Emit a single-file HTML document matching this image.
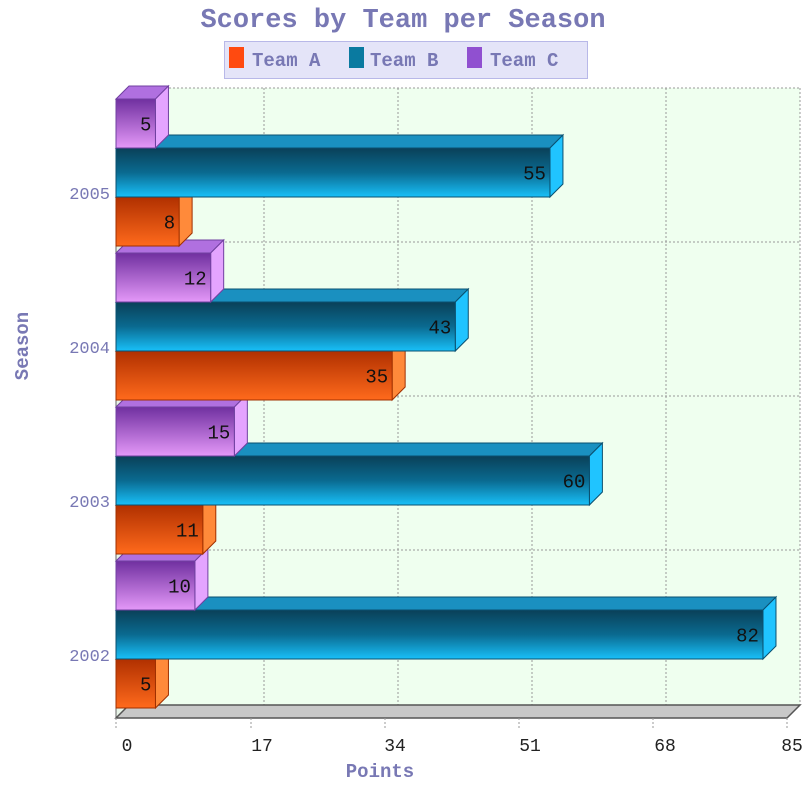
<!DOCTYPE html>
<html><head><meta charset="utf-8"><style>
html,body{margin:0;padding:0;background:#fff;}
svg{display:block;}
</style></head><body>
<svg id="s" width="812" height="804" xmlns="http://www.w3.org/2000/svg" font-family="Liberation Mono, DejaVu Sans Mono, monospace">
<defs>
<linearGradient id="gA" x1="0" y1="0" x2="0" y2="1"><stop offset="0" stop-color="#b03000"/><stop offset="1" stop-color="#ff6a1c"/></linearGradient>
<linearGradient id="gB" x1="0" y1="0" x2="0" y2="1"><stop offset="0" stop-color="#0a4058"/><stop offset="0.5" stop-color="#0a6a90"/><stop offset="1" stop-color="#18c0f8"/></linearGradient>
<linearGradient id="gC" x1="0" y1="0" x2="0" y2="1"><stop offset="0" stop-color="#7030a0"/><stop offset="1" stop-color="#e498f8"/></linearGradient>
</defs>
<text x="403" y="27" text-anchor="middle" font-size="27" font-weight="bold" fill="#7878b4">Scores by Team per Season</text>
<rect x="224.5" y="41.5" width="363" height="37" fill="#e4e4f8" stroke="#b8b8e8"/>
<rect x="229" y="47" width="15" height="21" fill="#ff4a10"/>
<text x="252" y="66" font-size="19" font-weight="bold" fill="#7878b4">Team A</text>
<rect x="349" y="47" width="15" height="21" fill="#0a7aa0"/>
<text x="370" y="66" font-size="19" font-weight="bold" fill="#7878b4">Team B</text>
<rect x="467" y="47" width="15" height="21" fill="#9050d0"/>
<text x="490" y="66" font-size="19" font-weight="bold" fill="#7878b4">Team C</text>
<g id="plot"></g>
<text x="28" y="346" text-anchor="middle" font-size="19" font-weight="bold" fill="#7878b4" transform="rotate(-90 28 346)">Season</text>
<text x="380" y="777" text-anchor="middle" font-size="19" font-weight="bold" fill="#7878b4">Points</text>
</svg>
<script>
var g=document.getElementById('plot'),h='';
var X0=116,D=13,S=7.89,BT=88,BB=705;
// back wall
h+='<rect x="129" y="88" width="671" height="617" fill="#efffef"/>';
// left wall
h+='<polygon points="116,101 129,88 129,705 116,718" fill="#e8f4e8" stroke="#666" stroke-width="1"/>';
var gx=[129,264,398,532,666,800];
gx.forEach(function(x){h+='<line x1="'+x+'" y1="88" x2="'+x+'" y2="705" stroke="#999" stroke-dasharray="2,2"/>';});
[88,242,396,550,705].forEach(function(y){h+='<line x1="129" y1="'+y+'" x2="800" y2="'+y+'" stroke="#999" stroke-dasharray="2,2"/>';h+='<line x1="116" y1="'+(y+13)+'" x2="129" y2="'+y+'" stroke="#999" stroke-dasharray="2,2"/>';});
// floor
h+='<polygon points="116,718 129,705 800,705 787,718" fill="#c8c8c8" stroke="#555" stroke-width="1.5"/>';
var lab=[127,262,395,530,665,792],tv=[0,17,34,51,68,85];
for(var i=0;i<6;i++){var fx=116+(gx[i]-129);h+='<line x1="'+fx+'" y1="718" x2="'+fx+'" y2="728" stroke="#999" stroke-dasharray="2,2"/>';
h+='<text x="'+lab[i]+'" y="751" text-anchor="middle" font-size="18" fill="#222">'+tv[i]+'</text>';}
var years=['2005','2004','2003','2002'];
var data={'2005':[8,55,5],'2004':[35,43,12],'2003':[11,60,15],'2002':[5,82,10]};
var fills=['url(#gA)','url(#gB)','url(#gC)'],tops=['#ff7a30','#1a90c0','#b070e0'],sides=['#ff8a3a','#20c4ff','#e4a4ff'],strokes=['#a03000','#0a5070','#7040a0'];
years.forEach(function(y,i){h+='<text x="110" y="'+(199+154*i)+'" text-anchor="end" font-size="17" fill="#7878b4">'+y+'</text>';});
for(var i=3;i>=0;i--){var bt=101+154*i;var v=data[years[i]];
 var ys=[bt+96,bt+47,bt-2];var hs=[49,49,49];
 for(var k=0;k<3;k++){var y=ys[k],hh=hs[k],x1=X0+v[k]*S;
  h+='<polygon points="'+X0+','+y+' '+(X0+D)+','+(y-D)+' '+(x1+D)+','+(y-D)+' '+x1+','+y+'" fill="'+tops[k]+'" stroke="'+strokes[k]+'" stroke-width="1"/>';
  h+='<polygon points="'+x1+','+y+' '+(x1+D)+','+(y-D)+' '+(x1+D)+','+(y+hh-D)+' '+x1+','+(y+hh)+'" fill="'+sides[k]+'" stroke="'+strokes[k]+'" stroke-width="1"/>';
  h+='<rect x="'+X0+'" y="'+y+'" width="'+(x1-X0)+'" height="'+hh+'" fill="'+fills[k]+'" stroke="'+strokes[k]+'" stroke-width="1"/>';
  h+='<text x="'+(x1-4)+'" y="'+(y+hh/2+7)+'" text-anchor="end" font-size="19" fill="#111">'+v[k]+'</text>';
 }}
g.innerHTML=h;
</script>
</body></html>
